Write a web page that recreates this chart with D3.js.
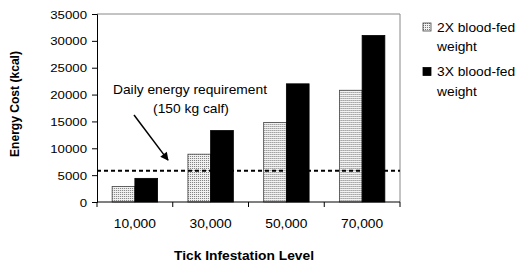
<!DOCTYPE html>
<html>
<head>
<meta charset="utf-8">
<script src="https://cdn.jsdelivr.net/npm/d3@7"></script>
<style>
  body { margin: 0; background: #fff; }
  svg { display: block; font-family: Arial, "Liberation Sans", sans-serif; }
</style>
</head>
<body>
<svg id="chart" width="518" height="267"></svg>
<script>
const levels = ["10,000", "30,000", "50,000", "70,000"]
const series = ["2X blood-fed weight", "3X blood-fed weight"]
const twoX = [2900, 8900, 14800, 20800]
const threeX = [4400, 13300, 22000, 31000]
const requirement = 5800
const yTicks = [0, 5000, 10000, 15000, 20000, 25000, 30000, 35000]

const svg = d3.select("#chart")
const margin = { top: 14, right: 118, bottom: 65, left: 97 }
const width = 518, height = 267
const sx = 1.15 // the original text is a bit wide

// place text at (x, y) with a horizontal stretch
const put = (sel, x, y) => sel.attr("x", 0).attr("y", 0)
  .attr("transform", `translate(${x},${y}) scale(${sx},1)`)

const x = d3.scaleBand()
  .domain(levels)
  .range([margin.left, width - margin.right])
  .paddingInner(0.4)
  .paddingOuter(0.2)

const xSub = d3.scaleBand()
  .domain(series)
  .range([0, x.bandwidth()])

const y = d3.scaleLinear()
  .domain([0, 35000])
  .range([height - margin.bottom, margin.top])

// stipple fill for 2X bars
const defs = svg.append("defs")
const pat = defs.append("pattern")
  .attr("id", "dots")
  .attr("patternUnits", "userSpaceOnUse")
  .attr("width", 2).attr("height", 2)
pat.append("rect").attr("width", 2).attr("height", 2).attr("fill", "#f2f2f2")
pat.append("rect").attr("width", 1).attr("height", 1).attr("fill", "#777")

// plot frame (top and right)
svg.append("path")
  .attr("d", `M${margin.left},${y(35000)}H${width - margin.right}V${y(0)}`)
  .attr("fill", "none")
  .attr("stroke", "#888")
  .attr("stroke-width", 1)

const rows = levels.map((l, i) => ({ level: l, values: [twoX[i], threeX[i]] }))

const groups = svg.append("g")
  .selectAll("g")
  .data(rows)
  .join("g")
  .attr("transform", d => `translate(${x(d.level)},0)`)

groups.selectAll("rect")
  .data(d => d.values.map((v, j) => ({ s: series[j], v })))
  .join("rect")
  .attr("x", d => xSub(d.s))
  .attr("y", d => y(d.v))
  .attr("width", xSub.bandwidth())
  .attr("height", d => y(0) - y(d.v))
  .attr("fill", d => d.s === series[0] ? "url(#dots)" : "#000")
  .attr("stroke", d => d.s === series[0] ? "#444" : "#000")
  .attr("stroke-width", 0.8)

// dashed requirement line
svg.append("line")
  .attr("x1", margin.left)
  .attr("x2", width - margin.right)
  .attr("y1", y(requirement))
  .attr("y2", y(requirement))
  .attr("stroke", "#000")
  .attr("stroke-width", 2)
  .attr("stroke-dasharray", "4,3")

// y axis
svg.append("g")
  .attr("transform", `translate(${margin.left},0)`)
  .call(d3.axisLeft(y).tickValues(yTicks).tickSize(5).tickFormat(d3.format("d")))
  .call(g => g.selectAll("line, path").attr("stroke", "#000"))
  .call(g => g.selectAll("text")
    .attr("font-size", 11.5).attr("fill", "#000")
    .attr("font-family", "Arial, 'Liberation Sans', sans-serif")
    .attr("dy", null)
    .call(put, -10, 4))

// x axis with ticks at category boundaries
const xAxis = svg.append("g").attr("transform", `translate(0,${y(0)})`)
xAxis.append("line")
  .attr("x1", margin.left).attr("x2", width - margin.right)
  .attr("stroke", "#000")
xAxis.selectAll(".tk")
  .data(d3.range(levels.length + 1))
  .join("line")
  .attr("class", "tk")
  .attr("x1", i => margin.left + i * x.step())
  .attr("x2", i => margin.left + i * x.step())
  .attr("y1", 0).attr("y2", 5)
  .attr("stroke", "#000")
xAxis.selectAll("text")
  .data(levels)
  .join("text")
  .attr("text-anchor", "middle")
  .attr("font-size", 12)
  .text(d => d)
  .each(function (d) { put(d3.select(this), x(d) + x.bandwidth() / 2, 26) })

// axis titles
svg.append("text")
  .attr("transform", `translate(19,104) rotate(-90) scale(1.05,1.1)`)
  .attr("text-anchor", "middle")
  .attr("font-size", 11.5)
  .attr("font-weight", "bold")
  .text("Energy Cost (kcal)")

svg.append("text")
  .attr("text-anchor", "middle")
  .attr("font-size", 12)
  .attr("font-weight", "bold")
  .text("Tick Infestation Level")
  .call(put, 244, 260)

// annotation
const note = svg.append("g").attr("font-size", 12)
note.append("text")
  .attr("text-anchor", "middle")
  .text("Daily energy requirement")
  .call(put, 190, y(20000) - 1)
note.append("text")
  .attr("text-anchor", "middle")
  .text("(150 kg calf)")
  .call(put, 191, y(16300) - 1)

defs.append("marker")
  .attr("id", "arrow")
  .attr("viewBox", "0 0 10 10")
  .attr("refX", 9).attr("refY", 5)
  .attr("markerWidth", 6).attr("markerHeight", 5.5)
  .attr("orient", "auto")
  .append("path")
  .attr("d", "M0,0L10,5L0,10z")
  .attr("fill", "#000")

note.append("line")
  .attr("x1", 134).attr("y1", y(16200))
  .attr("x2", 168).attr("y2", y(7800))
  .attr("stroke", "#000")
  .attr("stroke-width", 1.5)
  .attr("marker-end", "url(#arrow)")

// legend
const legend = svg.append("g")
  .attr("transform", "translate(423,23)")
  .selectAll("g")
  .data(series)
  .join("g")
  .attr("transform", (d, i) => `translate(0,${i * 44.5})`)
legend.append("rect")
  .attr("width", 8).attr("height", 8)
  .attr("fill", (d, i) => i === 0 ? "url(#dots)" : "#000")
  .attr("stroke", (d, i) => i === 0 ? "#444" : "#000")
  .attr("stroke-width", 0.8)
legend.selectAll("text")
  .data(d => { const k = d.indexOf(" weight"); return [d.slice(0, k), d.slice(k + 1)] })
  .join("text")
  .attr("font-size", 12)
  .text(d => d)
  .each(function (d, i) { put(d3.select(this), 14, 8.7 + i * 19.5) })
</script>
</body>
</html>
